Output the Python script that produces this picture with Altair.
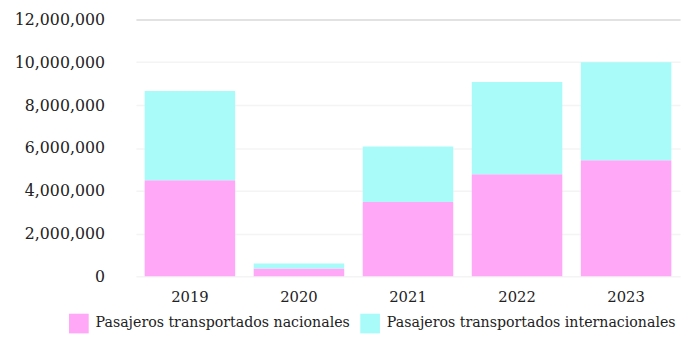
import altair as alt
import pandas as pd

years = ["2019", "2020", "2021", "2022", "2023"]
nacionales = [4490000, 370000, 3470000, 4770000, 5420000]
internacionales = [4170000, 230000, 2600000, 4310000, 4580000]
series = ["Pasajeros transportados nacionales", "Pasajeros transportados internacionales"]
colors = ["#FFA8F8", "#A8FBF8"]

rows = []
for i, y in enumerate(years):
    rows.append({"year": y, "serie": series[0], "value": nacionales[i], "order": 0})
    rows.append({"year": y, "serie": series[1], "value": internacionales[i], "order": 1})
df = pd.DataFrame(rows)

FONT = "DejaVu Serif"

chart = alt.Chart(df).mark_bar(strokeWidth=0).encode(
    x=alt.X("year:N", title=None, sort=years,
            scale=alt.Scale(paddingInner=0.17, paddingOuter=0.08),
            axis=alt.Axis(labelAngle=0, domain=False, ticks=False, labelPadding=14,
                          labelFontSize=15, labelFont=FONT, labelColor="#222")),
    y=alt.Y("value:Q", title=None, stack="zero",
            scale=alt.Scale(domain=[0, 12000000]),
            axis=alt.Axis(values=[0, 2000000, 4000000, 6000000, 8000000, 10000000, 12000000],
                          format=",d", domain=False, ticks=False, labelPadding=32,
                          labelFontSize=16, labelFont=FONT, labelColor="#222",
                          gridColor={"condition": {"test": "datum.value == 12000000", "value": "#d8d8d8"}, "value": "#f4f4f4"},
                          gridWidth=1.5)),
    color=alt.Color("serie:N", sort=series,
                    scale=alt.Scale(domain=series, range=colors),
                    legend=alt.Legend(title=None, orient="none", direction="horizontal",
                                      legendX=-68, legendY=299, symbolType="square",
                                      symbolSize=400, symbolStrokeWidth=0, symbolOpacity=1,
                                      labelFont=FONT, labelFontSize=14.4, labelColor="#222",
                                      labelLimit=0, columnPadding=10, labelOffset=7)),
    order=alt.Order("order:Q"),
).properties(width=553, height=261, padding={"top": 1, "left": 6, "right": 5, "bottom": 2}).configure_view(stroke=None)

chart.save("out.html", embed_options={"renderer": "svg", "actions": False})
